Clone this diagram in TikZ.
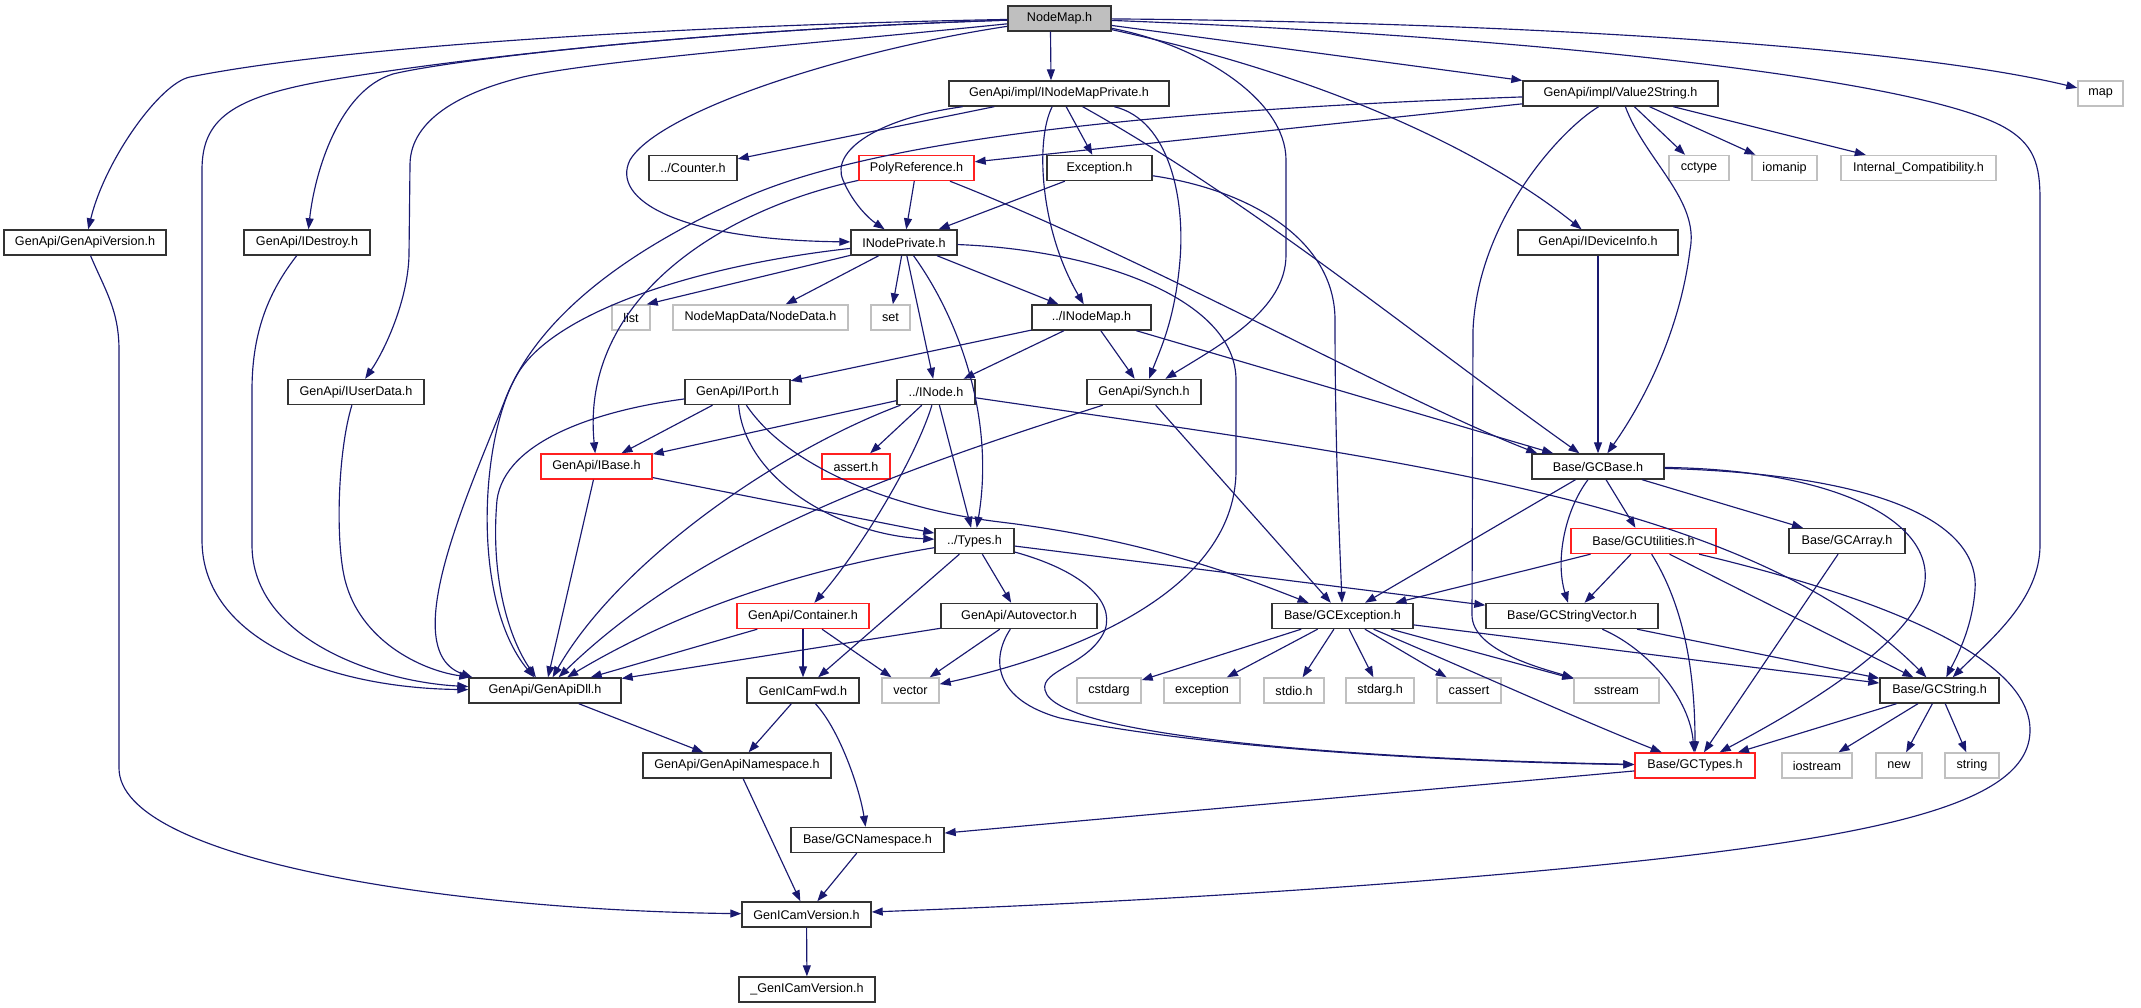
\documentclass[tikz,border=0pt]{standalone}
\usepackage{fontspec}
\setmainfont{Liberation Sans}
\usetikzlibrary{arrows.meta}
\definecolor{edgec}{HTML}{191970}
\definecolor{gborder}{HTML}{C0C0C0}
\definecolor{nmfill}{HTML}{BFBFBF}
\definecolor{bborder}{HTML}{333333}
\definecolor{rborder}{HTML}{FF2020}
\begin{document}
\begin{tikzpicture}[x=1pt,y=-1pt,
  bx/.style={draw=bborder,line width=1.4pt,fill=white,minimum height=25pt,inner sep=0pt,font=\fontsize{12.6}{14}\selectfont,text=black},
  sysbox/.style={bx,draw=gborder},
  redbox/.style={bx,draw=rborder},
  dep/.style={draw=edgec,line width=1.15pt,-{Triangle[length=11pt,width=8pt]}}
]
\useasboundingbox (0,0) rectangle (2141,1008);
% row 0
\node[bx,fill=nmfill,minimum width=103pt] (nm) at (1059.5,18.5) {NodeMap.h};
% row 1
\node[bx,minimum width=220pt] (inmp) at (1059,93.5) {GenApi/impl/INodeMapPrivate.h};
\node[bx,minimum width=195pt] (v2s) at (1620.5,93.5) {GenApi/impl/Value2String.h};
\node[sysbox,minimum width=45pt] (map) at (2100.5,93.5) {map};
% row 2
\node[bx,minimum width=88pt] (counter) at (693,168) {../Counter.h};
\node[redbox,minimum width=115pt] (poly) at (916.5,168) {PolyReference.h};
\node[bx,minimum width=105pt] (exc) at (1099.5,168) {Exception.h};
\node[sysbox,minimum width=60pt] (cctype) at (1699,168) {cctype};
\node[sysbox,minimum width=65pt] (iomanip) at (1784.5,168) {iomanip};
\node[sysbox,minimum width=155pt] (intcomp) at (1918.5,168) {Internal\_Compatibility.h};
% row 3
\node[bx,minimum width=162pt] (gav) at (85,242.5) {GenApi/GenApiVersion.h};
\node[bx,minimum width=126pt] (ides) at (307,242.5) {GenApi/IDestroy.h};
\node[bx,minimum width=106pt] (ipriv) at (904,242.5) {INodePrivate.h};
\node[bx,minimum width=160pt] (idev) at (1598,242.5) {GenApi/IDeviceInfo.h};
% row 4
\node[sysbox,minimum width=38pt] (list) at (631,317.5) {list};
\node[sysbox,minimum width=175pt] (ndata) at (760.5,317.5) {NodeMapData/NodeData.h};
\node[sysbox,minimum width=39pt] (set) at (890.5,317.5) {set};
\node[bx,minimum width=119pt] (inm) at (1091.5,317.5) {../INodeMap.h};
% row 5
\node[bx,minimum width=136pt] (iud) at (356,392) {GenApi/IUserData.h};
\node[bx,minimum width=105pt] (iport) at (737.5,392) {GenApi/IPort.h};
\node[bx,minimum width=78pt] (inode) at (936,392) {../INode.h};
\node[bx,minimum width=114pt] (synch) at (1144,392) {GenApi/Synch.h};
% row 6
\node[redbox,minimum width=111pt] (ibase) at (596.5,466.5) {GenApi/IBase.h};
\node[redbox,minimum width=68pt] (assert) at (856,466.5) {assert.h};
\node[bx,minimum width=132pt] (gcbase) at (1598,466.5) {Base/GCBase.h};
% row 7
\node[bx,minimum width=79pt] (types) at (974.5,541) {../Types.h};
\node[redbox,minimum width=145pt] (gcutil) at (1643.5,541) {Base/GCUtilities.h};
\node[bx,minimum width=116pt] (gcarray) at (1847,541) {Base/GCArray.h};
% row 8
\node[redbox,minimum width=132pt] (cont) at (803,616) {GenApi/Container.h};
\node[bx,minimum width=156pt] (autov) at (1019,616) {GenApi/Autovector.h};
\node[bx,minimum width=141pt] (gcexc) at (1342.5,616) {Base/GCException.h};
\node[bx,minimum width=172pt] (gcsv) at (1572,616) {Base/GCStringVector.h};
% row 9
\node[bx,minimum width=152pt] (dll) at (545,690.5) {GenApi/GenApiDll.h};
\node[bx,minimum width=112pt] (fwd) at (803,690.5) {GenICamFwd.h};
\node[sysbox,minimum width=57pt] (vector) at (910.5,690.5) {vector};
\node[sysbox,minimum width=64pt] (cstdarg) at (1109,690.5) {cstdarg};
\node[sysbox,minimum width=76pt] (exception) at (1202,690.5) {exception};
\node[sysbox,minimum width=60pt] (stdio) at (1294,690.5) {stdio.h};
\node[sysbox,minimum width=68pt] (stdarg) at (1380,690.5) {stdarg.h};
\node[sysbox,minimum width=64pt] (cassert) at (1469,690.5) {cassert};
\node[sysbox,minimum width=85pt] (sstream) at (1616.5,690.5) {sstream};
\node[bx,minimum width=119pt] (gcstr) at (1939.5,690.5) {Base/GCString.h};
% row 10
\node[bx,minimum width=188pt] (gans) at (737,765.5) {GenApi/GenApiNamespace.h};
\node[redbox,minimum width=120pt] (gctypes) at (1695,765.5) {Base/GCTypes.h};
\node[sysbox,minimum width=70pt] (iostream) at (1817,765.5) {iostream};
\node[sysbox,minimum width=46pt] (new) at (1899,765.5) {new};
\node[sysbox,minimum width=54pt] (string) at (1972,765.5) {string};
% rows 11-13
\node[bx,minimum width=153pt] (gcns) at (867.5,840) {Base/GCNamespace.h};
\node[bx,minimum width=129pt] (gcv) at (806.5,914.5) {GenICamVersion.h};
\node[bx,minimum width=136pt] (ugcv) at (807,989.5) {\_GenICamVersion.h};

% ---------- edges from NodeMap.h
\draw[dep] (nm) .. controls (700,25) and (350,45) .. (190,77) .. controls (160,83) and (105,160) .. (gav);
\draw[dep] (nm) .. controls (700,30) and (450,60) .. (330,80) .. controls (230,97) and (202,120) .. (202,170) -- (202,540) .. controls (202,640) and (330,688) .. (dll);
\draw[dep] (nm) .. controls (700,30) and (450,60) .. (393,74) .. controls (340,90) and (315,170) .. (ides);
\draw[dep] (nm) .. controls (800,45) and (600,60) .. (523,77) .. controls (450,95) and (410,125) .. (410,165) -- (409,255) .. controls (408,300) and (385,350) .. (iud);
\draw[dep] (nm) .. controls (850,50) and (660,110) .. (630,160) .. controls (610,200) and (680,240) .. (ipriv);
\draw[dep] ([xshift=-9pt]nm.south) -- ([xshift=-8pt]inmp.north);
\draw[dep] (nm) .. controls (1200,45) and (1286,100) .. (1286,160) -- (1286,255) .. controls (1286,310) and (1220,345) .. (synch);
\draw[dep] (nm) -- (v2s);
\draw[dep] (nm) .. controls (1300,70) and (1470,140) .. (idev);
\draw[dep] (nm) .. controls (1500,22) and (1900,45) .. (map);
\draw[dep] (nm) .. controls (1500,35) and (1900,75) .. (2000,125) .. controls (2035,143) and (2040,165) .. (2040,200) -- (2040,545) .. controls (2040,600) and (1990,640) .. (gcstr);
% ---------- INodeMapPrivate.h
\draw[dep] (inmp) -- (counter);
\draw[dep] (inmp) .. controls (880,118) and (830,150) .. (843,180) .. controls (852,202) and (868,218) .. (ipriv);
\draw[dep] (inmp) -- (exc);
\draw[dep] (inmp) .. controls (1035,140) and (1040,230) .. (inm);
\draw[dep] (inmp) .. controls (1170,120) and (1185,200) .. (1180,260) .. controls (1175,320) and (1160,350) .. (synch);
\draw[dep] (inmp) .. controls (1250,200) and (1420,340) .. (gcbase);
% ---------- Value2String.h
\draw[dep] (v2s) -- (poly);
\draw[dep] (v2s) .. controls (1150,110) and (870,140) .. (740,200) .. controls (640,245) and (540,310) .. (505,400) .. controls (470,490) and (395,650) .. ([xshift=4pt]dll.north west);
\draw[dep] (v2s) .. controls (1645,160) and (1700,200) .. (1690,250) .. controls (1680,330) and (1645,400) .. (gcbase);
\draw[dep] (v2s) .. controls (1560,130) and (1478,220) .. (1473,330) -- (1472,615) .. controls (1472,650) and (1540,668) .. (sstream);
\draw[dep] (v2s) -- (cctype);
\draw[dep] (v2s) -- (iomanip);
\draw[dep] (v2s) -- (intcomp);
% ---------- PolyReference.h
\draw[dep] (poly) -- (ipriv);
\draw[dep] (poly) .. controls (720,210) and (580,300) .. (ibase);
\draw[dep] (poly) .. controls (1150,260) and (1400,400) .. ([xshift=6pt]gcbase.north west);
% ---------- Exception.h
\draw[dep] (exc) -- (ipriv);
\draw[dep] (exc) .. controls (1250,190) and (1335,240) .. (1335,320) .. controls (1335,450) and (1340,550) .. (gcexc);
% ---------- misc top
\draw[dep] (idev) -- (gcbase);
\draw[dep] (gav) .. controls (105,290) and (119,310) .. (119,350) -- (119,768) .. controls (119,860) and (450,910) .. (gcv);
\draw[dep] (ides) .. controls (270,290) and (252,330) .. (252,390) -- (252,545) .. controls (252,640) and (380,682) .. (dll);
\draw[dep] (iud) .. controls (338,450) and (335,540) .. (345,580) .. controls (360,640) and (420,670) .. ([xshift=2pt]dll.north west);
% ---------- INodePrivate.h
\draw[dep] (ipriv) -- ([xshift=-4pt]list.north east);
\draw[dep] (ipriv) -- (ndata);
\draw[dep] (ipriv) -- (set);
\draw[dep] (ipriv) -- (inode);
\draw[dep] (ipriv) .. controls (960,320) and (995,420) .. (types);
\draw[dep] (ipriv) -- (inm);
\draw[dep] (ipriv) .. controls (700,265) and (560,310) .. (520,370) .. controls (480,430) and (470,600) .. (dll);
\draw[dep] (ipriv) .. controls (1100,250) and (1236,300) .. (1236,380) -- (1236,470) .. controls (1236,600) and (1050,660) .. (vector);
% ---------- ../INodeMap.h
\draw[dep] (inm) -- (iport);
\draw[dep] (inm) -- (inode);
\draw[dep] (inm) -- (synch);
\draw[dep] (inm) -- (gcbase);
% ---------- GenApi/IPort.h
\draw[dep] (iport) -- (ibase);
\draw[dep] (iport) .. controls (745,480) and (840,535) .. (types);
\draw[dep] (iport) .. controls (790,470) and (900,510) .. (1000,522) .. controls (1150,540) and (1250,580) .. (gcexc);
\draw[dep] (iport) .. controls (600,410) and (505,440) .. (497,500) .. controls (490,580) and (510,640) .. (dll);
% ---------- ../INode.h
\draw[dep] (inode) -- (ibase);
\draw[dep] (inode) -- (assert);
\draw[dep] (inode) -- (types);
\draw[dep] (inode) .. controls (915,460) and (860,550) .. (cont);
\draw[dep] (inode) .. controls (780,450) and (620,560) .. (dll);
\draw[dep] (inode) .. controls (1400,460) and (1750,500) .. (gcstr);
% ---------- GenApi/Synch.h
\draw[dep] (synch) .. controls (900,470) and (700,540) .. (dll);
\draw[dep] (synch) -- (gcexc);
% ---------- GenApi/IBase.h
\draw[dep] (ibase) -- (dll);
\draw[dep] (ibase) -- (types);
% ---------- Base/GCBase.h
\draw[dep] (gcbase) -- (gcexc);
\draw[dep] (gcbase) .. controls (1565,510) and (1555,560) .. (gcsv);
\draw[dep] (gcbase) -- (gcutil);
\draw[dep] (gcbase) -- (gcarray);
\draw[dep] (gcbase) .. controls (1850,470) and (1950,530) .. (1920,600) .. controls (1890,660) and (1780,720) .. (gctypes);
\draw[dep] (gcbase) .. controls (1900,475) and (1980,530) .. (1975,590) .. controls (1972,630) and (1955,660) .. (gcstr);
% ---------- ../Types.h
\draw[dep] (types) .. controls (800,570) and (680,610) .. (dll);
\draw[dep] (types) -- (fwd);
\draw[dep] (types) -- (autov);
\draw[dep] (types) -- (gcsv);
\draw[dep] (types) .. controls (1080,570) and (1115,600) .. (1105,630) .. controls (1090,665) and (1040,670) .. (1045,690) .. controls (1055,740) and (1400,760) .. (gctypes);
% ---------- GenApi/Autovector.h
\draw[dep] (autov) -- (dll);
\draw[dep] (autov) -- (vector);
\draw[dep] (autov) .. controls (990,660) and (995,700) .. (1060,718) .. controls (1200,748) and (1450,762) .. (gctypes);
% ---------- GenApi/Container.h
\draw[dep] (cont) -- (dll);
\draw[dep] (cont) -- (fwd);
\draw[dep] (cont) -- (vector);
% ---------- lower part
\draw[dep] (dll) -- (gans);
\draw[dep] (fwd) -- (gans);
\draw[dep] (fwd) .. controls (840,730) and (860,790) .. (gcns);
\draw[dep] (gans) -- (gcv);
\draw[dep] (gcns) -- (gcv);
\draw[dep] (gcv) -- (ugcv);
% ---------- Base/GCUtilities.h
\draw[dep] (gcutil) -- (gcexc);
\draw[dep] (gcutil) -- (gcsv);
\draw[dep] (gcutil) .. controls (1680,600) and (1695,660) .. (gctypes);
\draw[dep] (gcutil) -- (gcstr);
\draw[dep] (gcutil) .. controls (1850,590) and (2030,650) .. (2030,730) .. controls (2030,800) and (1900,835) .. (1600,865) .. controls (1300,895) and (1000,907) .. (gcv);
% ---------- Base/GCArray.h, GCStringVector.h
\draw[dep] (gcarray) -- (gctypes);
\draw[dep] (gcsv) .. controls (1650,650) and (1690,700) .. (gctypes);
\draw[dep] (gcsv) -- (gcstr);
% ---------- Base/GCException.h
\draw[dep] (gcexc) -- (cstdarg);
\draw[dep] (gcexc) -- (exception);
\draw[dep] (gcexc) -- (stdio);
\draw[dep] (gcexc) -- (stdarg);
\draw[dep] (gcexc) -- (cassert);
\draw[dep] (gcexc) -- (sstream);
\draw[dep] (gcexc) .. controls (1470,670) and (1580,720) .. (gctypes);
\draw[dep] (gcexc) -- (gcstr);
% ---------- Base/GCString.h
\draw[dep] (gcstr) -- (gctypes);
\draw[dep] (gcstr) -- (iostream);
\draw[dep] (gcstr) -- (new);
\draw[dep] (gcstr) -- (string);
% ---------- Base/GCTypes.h
\draw[dep] (gctypes) -- (gcns);
\end{tikzpicture}
\end{document}
